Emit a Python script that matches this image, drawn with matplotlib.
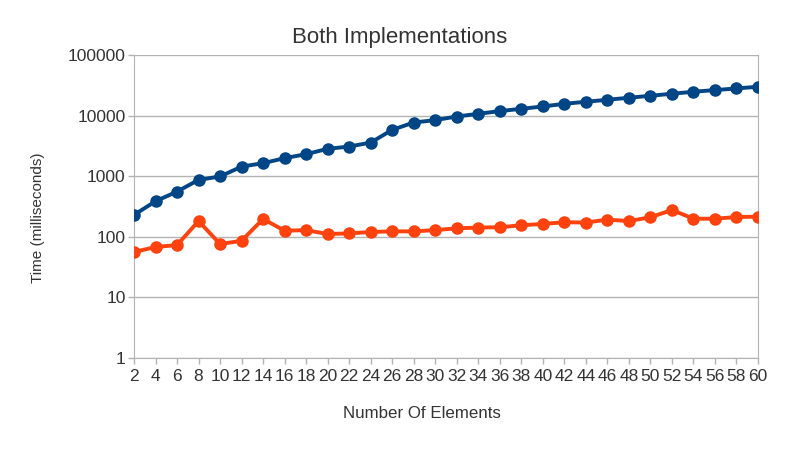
import numpy as np
import matplotlib
matplotlib.use('Agg')
import matplotlib.pyplot as plt

plt.rcParams['font.family'] = ['Liberation Sans', 'DejaVu Sans']

elements = list(range(2, 61, 2))
# blue series (upper line)
impl_a = [230, 386, 557, 869, 990, 1440, 1640, 1985, 2310, 2830,
          3085, 3590, 5820, 7690, 8430, 9660, 10700, 11870, 12940, 14130,
          15660, 16900, 18250, 19690, 21250, 22930, 24740, 26380, 28050, 29920]
# orange series (lower line)
impl_b = [56, 68, 73, 182, 76, 86, 197, 126, 129, 111,
          114, 120, 123, 123, 129, 138, 142, 144, 155, 163,
          174, 172, 192, 182, 210, 277, 199, 199, 212, 215]

txt = '#333333'
grid = '#b3b3b3'

fig = plt.figure(figsize=(8, 4.5), dpi=100)
ax = fig.add_axes([0.1675, 0.2044, 0.78, 0.6734])

ax.plot(elements, impl_a, color='#004586', linewidth=2.8, marker='o', markersize=8, zorder=3)
ax.plot(elements, impl_b, color='#ff420e', linewidth=2.8, marker='o', markersize=8, zorder=3)

ax.set_yscale('log')
ax.set_ylim(1, 100000)
ax.set_xlim(2, 60)
ax.set_yticks([1, 10, 100, 1000, 10000, 100000])
ax.set_yticklabels(['1', '10', '100', '1000', '10000', '100000'])
ax.yaxis.set_minor_locator(matplotlib.ticker.NullLocator())
ax.set_xticks(elements)
ax.set_xticklabels([str(e) for e in elements])

ax.grid(axis='y', color=grid, linewidth=1)
for s in ['top', 'right', 'left', 'bottom']:
    ax.spines[s].set_color(grid)
ax.spines['top'].set_visible(False)
ax.tick_params(axis='both', colors=grid, labelcolor=txt, labelsize=12.5, length=4, width=1)
ax.tick_params(axis='y', pad=2)
ax.tick_params(axis='x', pad=4)

fig.text(0.5, 1 - 42.5 / 450, 'Both Implementations', color=txt, fontsize=16,
         ha='center', va='baseline')
fig.text(0.5275, 1 - 418.5 / 450, 'Number Of Elements', color=txt, fontsize=12.2,
         ha='center', va='baseline')
fig.text(0.048, 1 - 217.5 / 450, 'Time (milliseconds)', color=txt, fontsize=11,
         ha='center', va='center', rotation=90)

fig.savefig('out.png', dpi=100)
